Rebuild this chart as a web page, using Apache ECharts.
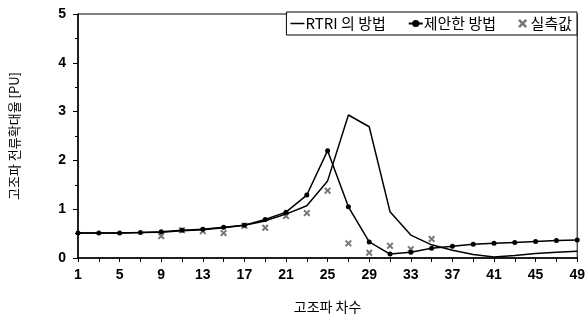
<!DOCTYPE html>
<html>
<head>
<meta charset="utf-8">
<script src="https://cdn.jsdelivr.net/npm/echarts@6/dist/echarts.min.js"></script>
<style>
  html, body { margin: 0; padding: 0; background: #fff; }
  #chart { width: 588px; height: 321px; }
</style>
</head>
<body>
<div id="chart"></div>
<script>
var orders = ['1','3','5','7','9','11','13','15','17','19','21','23','25','27','29','31','33','35','37','39','41','43','45','47','49'];
// RTRI 의 방법
var rtri = [0.51,0.51,0.51,0.52,0.53,0.56,0.58,0.62,0.67,0.76,0.90,1.07,1.58,2.93,2.69,0.95,0.47,0.27,0.16,0.07,0.02,0.05,0.09,0.12,0.14];
// 제안한 방법
var proposed = [0.51,0.51,0.51,0.52,0.54,0.57,0.59,0.63,0.67,0.79,0.94,1.29,2.20,1.05,0.33,0.08,0.12,0.20,0.24,0.28,0.30,0.32,0.34,0.36,0.37];
// 실측값 (9차부터)
var measured = [null,null,null,null,0.45,0.57,0.55,0.51,0.66,0.62,0.86,0.92,1.38,0.30,0.11,0.25,0.18,0.39,null,null,null,null,null,null,null];

var fontLabel = 'Liberation Sans, Arial, sans-serif';
var fontKr = 'Noto Sans CJK KR, sans-serif';
var markSym = 'path://M2,0L5,3L8,0L10,2L7,5L10,8L8,10L5,7L2,10L0,8L3,5L0,2Z';
var lineIcon = 'path://M0,4L14,4L14,5.5L0,5.5Z';

var myChart = echarts.init(document.getElementById('chart'));
var option = {
    animation: false,
    backgroundColor: '#fff',
    grid: {
        left: 78,
        right: 10,
        top: 14,
        bottom: 63,
        show: true,
        borderColor: '#000',
        borderWidth: 1
    },
    legend: {
        right: 11,
        top: 12,
        orient: 'horizontal',
        itemGap: 22,
        itemWidth: 14,
        itemHeight: 9,
        padding: [4, 5, 4, 4],
        borderColor: '#000',
        borderWidth: 1,
        borderRadius: 0,
        backgroundColor: '#fff',
        textStyle: { fontFamily: fontKr, fontSize: 15, color: '#000', padding: [0, 0, 0, -4] },
        data: [
            { name: 'RTRI 의 방법', icon: lineIcon, itemStyle: { color: '#000' } },
            { name: '제안한 방법' },
            { name: '실측값', icon: markSym, itemStyle: { color: '#555' } }
        ]
    },
    xAxis: {
        type: 'category',
        boundaryGap: false,
        data: orders,
        name: '고조파 차수',
        nameLocation: 'middle',
        nameGap: 42,
        nameTextStyle: { fontFamily: fontKr, fontSize: 14, color: '#000' },
        axisLine: { lineStyle: { color: '#000', width: 1.5 } },
        axisTick: { interval: 0, length: 4, lineStyle: { color: '#000' } },
        axisLabel: { interval: 1, color: '#000', fontFamily: fontLabel, fontWeight: 'bold', fontSize: 14, margin: 10 },
        splitLine: { show: false }
    },
    yAxis: {
        type: 'value',
        min: 0,
        max: 5,
        interval: 1,
        name: '고조파 전류확대율 [PU]',
        nameLocation: 'middle',
        nameGap: 57,
        nameTextStyle: { fontFamily: fontKr, fontSize: 13, color: '#000' },
        axisLine: { show: true, lineStyle: { color: '#000', width: 1.5 } },
        axisTick: { show: true, length: 5, lineStyle: { color: '#000' } },
        minorTick: { show: true, splitNumber: 2, length: 3, lineStyle: { color: '#000' } },
        axisLabel: { color: '#000', fontFamily: fontLabel, fontWeight: 'bold', fontSize: 14, margin: 12 },
        splitLine: { show: false }
    },
    series: [
        {
            name: 'RTRI 의 방법',
            type: 'line',
            data: rtri,
            showSymbol: false,
            symbol: 'none',
            lineStyle: { color: '#000', width: 1.5 },
            itemStyle: { color: '#000' }
        },
        {
            name: '제안한 방법',
            type: 'line',
            data: proposed,
            symbol: 'circle',
            symbolSize: 5,
            lineStyle: { color: '#000', width: 1.5 },
            itemStyle: { color: '#000' }
        },
        {
            name: '실측값',
            type: 'scatter',
            data: measured,
            symbol: markSym,
            symbolSize: 7,
            itemStyle: { color: '#555' }
        }
    ]
};
myChart.setOption(option);
</script>
</body>
</html>
